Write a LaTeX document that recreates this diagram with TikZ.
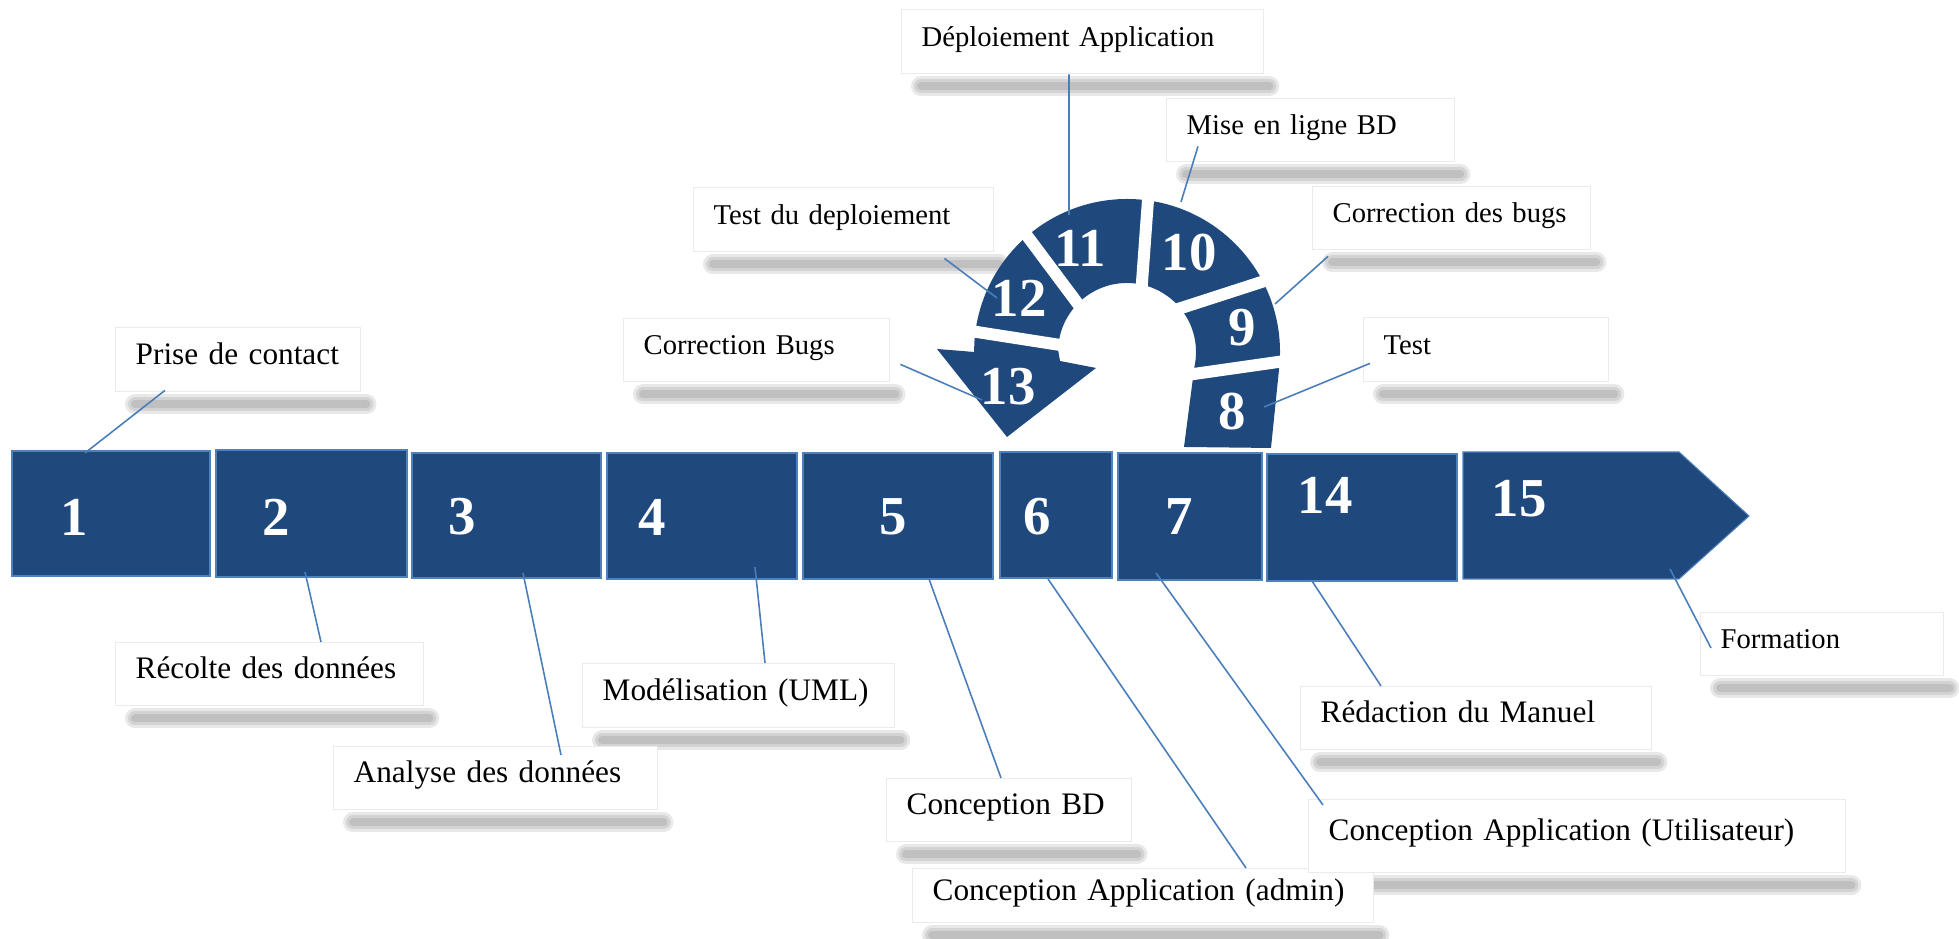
\documentclass[tikz,border=0pt]{standalone}
\usepackage{fontspec}
\setmainfont{Liberation Serif}
\usetikzlibrary{calc,backgrounds}

\definecolor{stepblue}{RGB}{31,73,125}
\definecolor{stepedge}{RGB}{79,129,189}
\definecolor{leadblue}{RGB}{74,126,187}

\tikzset{
  bar/.style={fill=stepblue, draw=stepedge, line width=0.3pt},
  num/.style={text=white, inner sep=0pt, font=\bfseries\fontsize{15.6}{16}\selectfont},
  lab/.style={draw=black!8, fill=white, anchor=north west, align=left, inner xsep=2mm, inner ysep=0pt,
    text height=0.72em, text depth=0.45em, text width=#1, font=\fontsize{8.9}{11}\selectfont,
    execute at begin node=\hbox\bgroup, execute at end node=\egroup},
  labs/.style={lab=#1, font=\fontsize{8.15}{10}\selectfont},
  lead/.style={draw=leadblue, line width=0.45pt},
  gap/.style={draw=white, line width=1.2mm},
}

% soft shadow under a label box
\newcommand{\labshadow}[1]{%
  \foreach \w in {2.0,1.4,0.8}
    \draw[line width=\w mm, line cap=round, black, opacity=0.09]
      ([xshift=2mm,yshift=-1.2mm]#1.south west) -- ([xshift=0.5mm,yshift=-1.2mm]#1.south east);}

\begin{document}
\begin{tikzpicture}
	\useasboundingbox (0,0) rectangle (19.59,9.39);

	% bar of steps
	\foreach \xa/\ya/\xb/\yb in {0.12/4.88/2.10/3.63, 2.16/4.89/4.07/3.62, 4.12/4.86/6.01/3.61,
	    6.07/4.86/7.97/3.60, 8.03/4.86/9.93/3.60, 10.00/4.87/11.12/3.61, 11.18/4.86/12.62/3.59, 12.67/4.85/14.57/3.58}
		\draw[bar] (\xa,\ya) rectangle (\xb,\yb);
	\draw[bar] (14.63,4.87) -- (16.79,4.87) -- (17.49,4.23) -- (16.79,3.60) -- (14.63,3.60) -- cycle;

	% u-turn arrow
	\coordinate (uc) at (11.27,5.87);
	\fill[stepblue] (12.71,4.91) -- ($(uc)+(-6:1.53)$) arc[start angle=-6, end angle=175, radius=1.53]
		-- (9.74,5.87) -- (9.37,5.90) -- (10.07,5.02) -- (10.96,5.71) -- (10.60,5.78)
		-- ($(uc)+(178:0.69)$) arc[start angle=178, end angle=-12, radius=0.69] -- (11.84,4.92) -- cycle;
	\foreach \xa/\ya/\xb/\yb in {11.80/5.63/12.92/5.79, 11.72/6.28/12.77/6.62, 11.41/6.43/11.49/7.53,
	    10.19/7.14/10.84/6.27, 9.64/6.09/10.73/5.92}
		\draw[gap] (\xa,\ya) -- (\xb,\yb);

	\foreach \n/\x/\y in {1/0.74/4.22, 2/2.76/4.22, 3/4.62/4.22, 4/6.52/4.22, 5/8.93/4.22, 6/10.37/4.22,
	    7/11.79/4.22, 14/13.25/4.44, 15/15.19/4.40, 8/12.32/5.27, 9/12.42/6.11, 10/11.89/6.86,
	    11/10.80/6.91, 12/10.19/6.41, 13/10.08/5.52}
		\node[num] (n\n) at (\x,\y) {\n};

	% labels
	\node[lab=2.05cm, minimum height=0.64cm] (l1) at (1.15,6.12) {Prise de contact};
	\node[lab=2.68cm, minimum height=0.63cm] (l2) at (1.15,2.97) {Récolte des données};
	\node[lab=2.84cm, minimum height=0.63cm] (l3) at (3.33,1.93) {Analyse des données};
	\node[lab=2.72cm, minimum height=0.64cm] (l4) at (5.82,2.76) {Modélisation (UML)};
	\node[lab=2.05cm, minimum height=0.63cm] (l5) at (8.86,1.61) {Conception BD};
	\node[lab=4.21cm, minimum height=0.54cm] (l6) at (9.12,0.71) {Conception Application (admin)};
	\node[lab=4.97cm, minimum height=0.73cm] (l7) at (13.08,1.40) {Conception Application (Utilisateur)};
	\node[lab=3.11cm, minimum height=0.63cm] (l14) at (13.00,2.53) {Rédaction du Manuel};
	\node[labs=2.03cm, minimum height=0.63cm] (l15) at (17.00,3.27) {Formation};
	\node[labs=3.22cm, minimum height=0.64cm] (l11) at (9.01,9.30) {Déploiement Application};
	\node[labs=2.48cm, minimum height=0.63cm] (l10) at (11.66,8.41) {Mise en ligne BD};
	\node[labs=2.38cm, minimum height=0.63cm] (l9) at (13.12,7.53) {Correction des bugs};
	\node[labs=2.05cm, minimum height=0.64cm] (l8) at (13.63,6.22) {Test};
	\node[labs=2.60cm, minimum height=0.64cm] (l12) at (6.93,7.52) {Test du deploiement};
	\node[labs=2.26cm, minimum height=0.63cm] (l13) at (6.23,6.21) {Correction Bugs};

	\begin{scope}[on background layer]
		\foreach \l in {l1,l2,l3,l4,l5,l6,l7,l14,l15,l11,l10,l9,l8,l12,l13}
			{\labshadow{\l}}
	\end{scope}

	% leader lines
	\foreach \n/\x/\y in {1/0.85/4.86, 2/3.05/3.67, 3/5.23/3.66, 4/7.55/3.72, 5/9.29/3.60, 6/10.48/3.60,
	    7/11.56/3.66, 14/13.12/3.58, 15/16.70/3.70, 8/12.64/5.32, 9/12.75/6.35, 10/11.81/7.37,
	    11/10.69/7.24, 12/9.97/6.41, 13/9.82/5.39}
		\coordinate (p\n) at (\x,\y);
	\draw[lead] ([xshift=5mm,yshift=0.2mm]l1.south west) -- (p1);
	\draw[lead] ([xshift=20.6mm]l2.north west) -- (p2);
	\draw[lead] ([xshift=22.8mm,yshift=-0.9mm]l3.north west) -- (p3);
	\draw[lead] ([xshift=18.3mm]l4.north west) -- (p4);
	\draw[lead] ([xshift=11.5mm]l5.north west) -- (p5);
	\draw[lead] ([xshift=33.4mm]l6.north west) -- (p6);
	\draw[lead] ([xshift=1.5mm,yshift=-0.6mm]l7.north west) -- (p7);
	\draw[lead] ([xshift=8.1mm]l14.north west) -- (p14);
	\draw[lead] ([xshift=1.1mm,yshift=-3.6mm]l15.north west) -- (p15);
	\draw[lead] ([xshift=16.8mm]l11.south west) -- (p11);
	\draw[lead] ([xshift=3.2mm,yshift=1.6mm]l10.south west) -- (p10);
	\draw[lead] ([xshift=1.6mm,yshift=-0.6mm]l9.south west) -- (p9);
	\draw[lead] ([xshift=0.7mm,yshift=1.9mm]l8.south west) -- (p8);
	\draw[lead] ([xshift=-5mm,yshift=-0.6mm]l12.south east) -- (p12);
	\draw[lead] ([xshift=1mm,yshift=1.8mm]l13.south east) -- (p13);

\end{tikzpicture}
\end{document}
